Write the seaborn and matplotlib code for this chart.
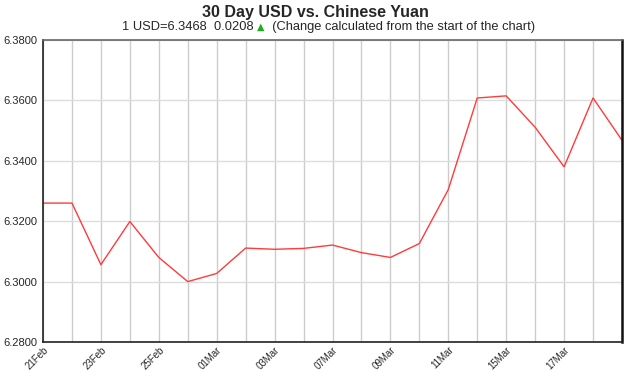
import matplotlib
matplotlib.use("Agg")
import matplotlib.pyplot as plt
import seaborn as sns
import pandas as pd
import numpy as np

# Data (business days, labelled every other point)
dates = ["21Feb", "22Feb", "23Feb", "24Feb", "25Feb", "28Feb", "01Mar", "02Mar",
         "03Mar", "04Mar", "07Mar", "08Mar", "09Mar", "10Mar", "11Mar", "14Mar",
         "15Mar", "16Mar", "17Mar", "18Mar", "19Mar"]
rates = [6.3260, 6.3260, 6.3056, 6.3199, 6.3080, 6.3000, 6.3027, 6.3111,
         6.3107, 6.3110, 6.3121, 6.3096, 6.3080, 6.3126, 6.3305, 6.3608,
         6.3615, 6.3511, 6.3380, 6.3608, 6.3468]
tick_labels = ["21Feb", "23Feb", "25Feb", "01Mar", "03Mar", "07Mar", "09Mar",
               "11Mar", "15Mar", "17Mar"]
y_ticks = [6.28, 6.30, 6.32, 6.34, 6.36, 6.38]

sns.set_style("white")
plt.rcParams['font.family'] = ['Liberation Sans', 'DejaVu Sans']

df = pd.DataFrame({"idx": np.arange(len(rates)), "rate": rates, "date": dates})

fig = plt.figure(figsize=(6.3, 3.72), dpi=100)
ax = fig.add_axes([43/630, 1-342/372, (622-43)/630, (342-40)/372])

sns.lineplot(data=df, x="idx", y="rate", ax=ax, color="#ff3b3b", linewidth=1.0)

ax.set_xlim(0, len(rates) - 1)
ax.set_ylim(6.28, 6.38)
ax.set_yticks(y_ticks)
ax.set_yticklabels([f"{v:.4f}" for v in y_ticks], fontsize=8)

# vertical grid at every data point
ax.set_xticks(np.arange(len(rates)), minor=True)
major_pos = [dates.index(t) for t in tick_labels]
ax.set_xticks(major_pos)
ax.set_xticklabels(tick_labels, rotation=45, ha="right", rotation_mode="anchor", fontsize=7)
ax.grid(True, which="both", axis="x", color="#cccccc", linewidth=1)
ax.grid(True, which="major", axis="y", color="#dddddd", linewidth=1)
ax.tick_params(axis="y", which="major", direction="out", length=3, width=1, color="#333333", pad=1)
ax.tick_params(axis="x", which="both", length=0, pad=2)

ax.set_xlabel("")
ax.set_ylabel("")
for s in ["left", "bottom"]:
    ax.spines[s].set_color("#222222")
    ax.spines[s].set_linewidth(1.2)
ax.spines["top"].set_color("#666666")
ax.spines["top"].set_linewidth(1.2)
ax.spines["right"].set_color("#111111")
ax.spines["right"].set_linewidth(1.8)

fig.text(0.5, 1-12/372, "30 Day USD vs. Chinese Yuan", ha="center", va="center",
         fontsize=11.5, fontweight="bold")

# Subtitle with green triangle
change = rates[-1] - rates[0]
p1 = f"1 USD={rates[-1]:.4f}  {change:.4f} "
p2 = "\u25B2"
p3 = "  (Change calculated from the start of the chart)"
fig.canvas.draw()
r = fig.canvas.get_renderer()
ty = 1 - 27/372
t1 = fig.text(0, ty, p1, ha="left", va="center", fontsize=9.3)
t2 = fig.text(0, ty, p2, ha="left", va="center", fontsize=7, color="#22aa22",
              family="DejaVu Sans")
t3 = fig.text(0, ty, p3, ha="left", va="center", fontsize=9.3)
w = [t.get_window_extent(r).width for t in (t1, t2, t3)]
total = sum(w)
x0 = 122
t1.set_x(x0 / 630)
t2.set_x((x0 + w[0]) / 630)
t3.set_x((x0 + w[0] + w[1]) / 630)

fig.savefig("out.png", dpi=100)
